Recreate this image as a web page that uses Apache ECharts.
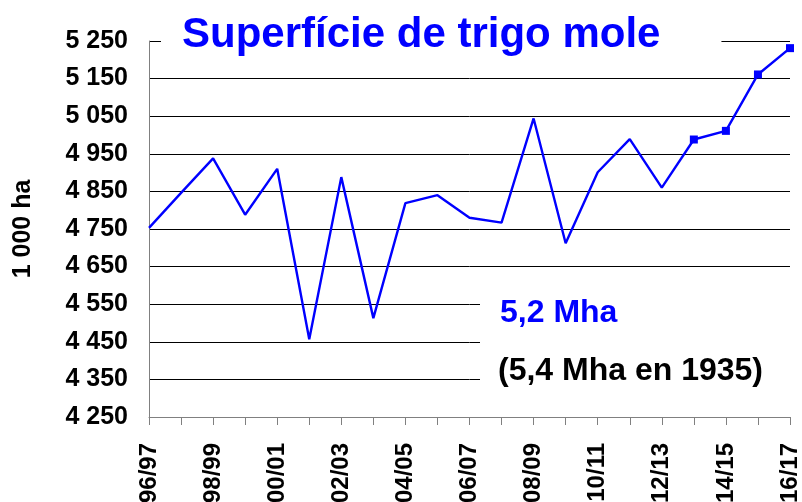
<!DOCTYPE html>
<html>
<head>
<meta charset="utf-8">
<script src="https://cdn.jsdelivr.net/npm/echarts@6/dist/echarts.min.js"></script>
<style>
  html, body { margin: 0; padding: 0; background: #fff; }
  #chart { width: 802px; height: 502px; }
</style>
</head>
<body>
<div id="chart"></div>
<script>
// campagnes
const categories = ['96/97', '97/98', '98/99', '99/00', '00/01', '01/02', '02/03', '03/04', '04/05', '05/06',
  '06/07', '07/08', '08/09', '09/10', '10/11', '11/12', '12/13', '13/14', '14/15', '15/16', '16/17'];
// superficie, 1000 ha
const surface = [4753, 4846, 4938, 4788, 4910, 4457, 4888, 4513, 4819, 4840,
  4780, 4767, 5044, 4712, 4901, 4989, 4860, 4988, 5011, 5161, 5231];
// points avec marqueur carre
const markedCats = ['13/14', '14/15', '15/16', '16/17'];

const yMin = 4250;
const yMax = 5250;
const yStep = 100;

const font = '"Liberation Sans", Arial, sans-serif';

function fmtThousands(v) {
  const k = Math.floor(v / 1000);
  const r = String(v % 1000).padStart(3, '0');
  return k + ' ' + r;
}

const chart = echarts.init(document.getElementById('chart'));
const option = {
  backgroundColor: '#fff',
  animation: false,
  title: {
    text: 'Superfície de trigo mole',
    left: 161,
    top: 10,
    padding: [4, 61, 4, 21],
    backgroundColor: '#fff',
    textStyle: {
      color: '#0000ff',
      fontSize: 42,
      fontWeight: 'bold',
      fontFamily: font
    }
  },
  grid: {
    left: 149,
    right: 12,
    top: 41,
    bottom: 85,
    outerBoundsMode: 'none'
  },
  xAxis: {
    type: 'category',
    data: categories,
    boundaryGap: false,
    axisLine: { lineStyle: { color: '#808080', width: 1 } },
    axisTick: { show: true, interval: 0, length: 8, lineStyle: { color: '#808080' } },
    axisLabel: {
      interval: 1,
      rotate: 90,
      margin: 26,
      color: '#000',
      fontSize: 24,
      fontWeight: 'bold',
      fontFamily: font
    },
    splitLine: { show: false }
  },
  yAxis: {
    type: 'value',
    min: yMin,
    max: yMax,
    interval: yStep,
    name: '1 000 ha',
    nameLocation: 'middle',
    nameRotate: 90,
    nameGap: 113,
    nameTextStyle: {
      color: '#000',
      fontSize: 25,
      fontWeight: 'bold',
      fontFamily: font
    },
    axisLine: { show: true, lineStyle: { color: '#808080', width: 1 } },
    axisTick: { show: false },
    axisLabel: {
      margin: 21,
      color: '#000',
      fontSize: 25,
      fontWeight: 'bold',
      fontFamily: font,
      formatter: fmtThousands
    },
    splitLine: { show: true, lineStyle: { color: '#000', width: 1 } }
  },
  graphic: [
    {
      type: 'rect',
      left: 480,
      top: 284,
      shape: { width: 322, height: 114 },
      style: { fill: '#fff' },
      z: 50
    },
    {
      type: 'text',
      left: 500,
      top: 297,
      style: {
        text: '5,2 Mha',
        fill: '#0000ff',
        font: 'bold 32px ' + font
      },
      z: 51
    },
    {
      type: 'text',
      left: 498,
      top: 355,
      style: {
        text: '(5,4 Mha en 1935)',
        fill: '#000',
        font: 'bold 32px ' + font
      },
      z: 51
    }
  ],
  series: [{
    type: 'line',
    data: surface.map((v, i) => markedCats.includes(categories[i])
      ? { value: v, symbol: 'rect', symbolSize: 8 }
      : { value: v, symbol: 'none' }),
    showAllSymbol: true,
    lineStyle: { color: '#0000ff', width: 2.4 },
    itemStyle: { color: '#0000ff' }
  }]
};
chart.setOption(option);
</script>
</body>
</html>
